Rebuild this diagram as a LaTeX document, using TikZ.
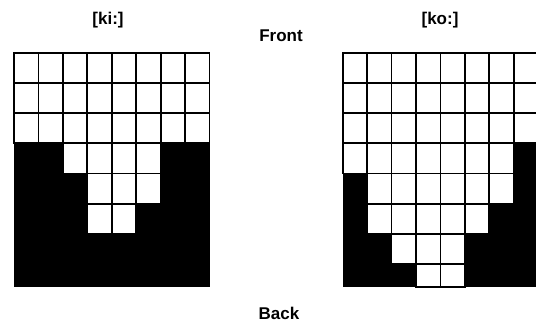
\documentclass[tikz,border=0pt]{standalone}
\usepackage{fontspec}
\setmainfont{Liberation Sans}
\begin{document}
\begin{tikzpicture}[x=1pt,y=-1pt,
  lbl/.style={font=\bfseries\fontsize{17}{20}\selectfont, inner sep=0pt, anchor=base},
  cellbox/.style={fill=white, draw=black, line width=1.8pt},
  blackarea/.style={fill=black}]
\useasboundingbox (0,0) rectangle (536,322);
\clip (0,0) rectangle (536,322);
% left grid [ki:]
\fill[blackarea] (14,52.7) rectangle (209.5,286.7);
\foreach \r/\a/\b in {0/0/7,1/0/7,2/0/7,3/2/5,4/3/5,5/3/4} {
  \foreach \c in {\a,...,\b} {
    \draw[cellbox] ({14+24.44*\c},{52.7+30.19*\r}) rectangle ++(24.44,30.19);
  }
}
% right grid [ko:]
\fill[blackarea] (342.7,52.7) rectangle (538.2,286.7);
\foreach \r/\a/\b in {0/0/7,1/0/7,2/0/7,3/0/6,4/1/6,5/1/5,6/2/4} {
  \foreach \c in {\a,...,\b} {
    \draw[cellbox] ({342.7+24.44*\c},{52.7+30.19*\r}) rectangle ++(24.44,30.19);
  }
}
\foreach \c in {3,4} {
  \draw[cellbox] ({342.7+24.44*\c},264.03) rectangle ++(24.44,22.67);
}
% labels
\node[lbl] (ki) at (108,24.4) {[ki:]};
\node[lbl] (ko) at (440,24) {[ko:]};
\node[lbl] (front) at (281,41) {Front};
\node[lbl] (back) at (279,319.3) {Back};
\end{tikzpicture}
\end{document}
